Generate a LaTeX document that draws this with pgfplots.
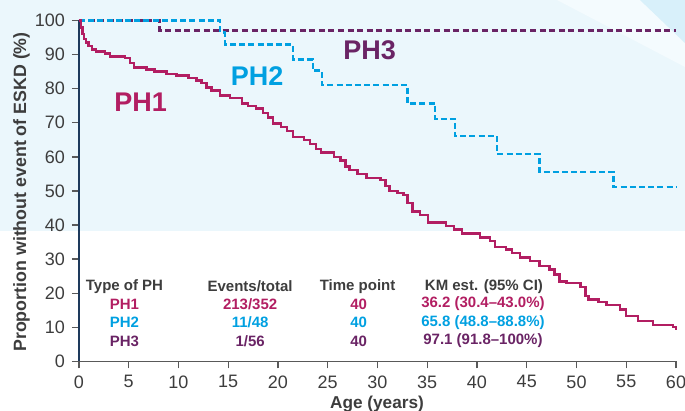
\documentclass[border=0pt]{standalone}
\usepackage{fontspec}
\setmainfont{Liberation Sans}
\usepackage{pgfplots}
\pgfplotsset{compat=1.18}
\definecolor{phone}{HTML}{B21E62}
\definecolor{phtwo}{HTML}{00A0E1}
\definecolor{phthree}{HTML}{6A2465}
\definecolor{txt}{HTML}{3D3D3D}
\definecolor{bgblue}{HTML}{EBF7FC}
\definecolor{bgdark}{HTML}{D8F0FA}
\definecolor{bglight}{HTML}{F4FBFE}
\definecolor{navy}{HTML}{1E3A5C}
\begin{document}
\begin{tikzpicture}
\useasboundingbox (0,0) rectangle (342.5pt,205.5pt);
\fill[bgblue] (0,90pt) rectangle (342.5pt,205.5pt);
\fill[bglight] (278.5pt,205.5pt) -- (320pt,205.5pt) -- (342.5pt,184pt) -- (342.5pt,172pt) -- cycle;
\fill[bgdark] (320pt,205.5pt) -- (342.5pt,205.5pt) -- (342.5pt,184pt) -- cycle;
\begin{axis}[
  at={(39.5pt,24.75pt)}, anchor=south west,
  scale only axis, width=298.5pt, height=170.5pt,
  xmin=0, xmax=60, ymin=0, ymax=100,
  axis x line=bottom, axis y line=left,
  axis line style={-},
  x axis line style={draw=black!65, line width=0.8pt},
  y axis line style={draw=navy, line width=1pt},
  xtick={0,5,...,60}, ytick={0,10,...,100},
  tick align=outside, major tick length=3.5pt,
  tick style={draw=black!65, line width=0.7pt},
  ticklabel style={font=\fontsize{9}{10}\selectfont, text=txt},
  /pgf/number format/assume math mode=true,
  clip=false,
]
\addplot[const plot, phthree, line width=1.2pt, dash pattern=on 3pt off 1.8pt] coordinates {
(0,100) (8.1,97.1) (60,97.1)};
\addplot[const plot, phtwo, line width=1.2pt, dash pattern=on 3pt off 1.6pt] coordinates {
(0,100) (14.2,96.5) (14.7,93.0) (21.5,88.6) (23.5,85.3) (24.4,81.1) (33.0,75.7)
(35.8,71.2) (37.8,66.1) (42.0,60.8) (46.3,55.5) (53.7,51.1) (60.0,51.1)};
\addplot[const plot, phone, line width=1.2pt] coordinates {
(0,100) (0.2,98) (0.35,96) (0.5,94.5) (0.7,93.5) (0.95,92.5) (1.3,91.5) (1.7,90.9)
(2.6,90.3) (3.1,89.5) (4.6,89.0) (5.1,87.6) (5.5,86.2) (6.8,85.6) (7.6,85.0)
(8.8,84.3) (9.8,83.9) (11.0,83.2) (11.8,82.4) (12.3,81.6) (12.8,80.4) (13.3,79.5)
(14.2,78.0) (15.2,77.2) (16.4,75.6) (17.0,75.0) (17.8,74.2) (18.5,72.8) (19.0,71.5)
(19.5,69.8) (20.3,68.8) (20.9,67.6) (21.5,65.8) (22.6,65.0) (23.2,63.8) (23.8,62.3)
(24.3,61.3) (25.6,60.0) (26.3,59.0) (26.8,57.2) (27.2,56.2) (28.0,55.0) (28.9,53.8)
(30.3,53.2) (30.8,51.5) (31.2,50.0) (32.0,49.5) (32.6,48.8) (33.0,46.5) (33.5,44.0)
(34.3,43.0) (35.1,40.8) (36.9,39.8) (37.7,38.7) (38.5,37.5) (40.3,36.4) (41.3,35.3)
(41.8,33.5) (42.9,32.8) (43.5,31.8) (44.3,30.5) (45.3,29.5) (46.3,28.0) (47.3,27.0)
(47.8,25.5) (48.3,23.5) (49.0,23.0) (50.4,21.9) (50.9,19.2) (51.2,18.2) (52.2,17.5)
(53.0,16.6) (54.4,15.3) (55.0,13.4) (56.2,11.8) (57.7,10.7) (59.7,10.2) (60.0,9.2)};
% big labels
\node[font=\fontsize{13.5}{16}\bfseries, text=phone] at (axis cs:6.2,76.0) {PH1};
\node[font=\fontsize{13.5}{16}\bfseries, text=phtwo] at (axis cs:17.9,83.7) {PH2};
\node[font=\fontsize{13.5}{16}\bfseries, text=phthree] at (axis cs:29.2,91.3) {PH3};
% table
\begin{scope}[every node/.style={font=\fontsize{7.5}{9}\bfseries\selectfont}]
\node[text=txt] at (axis cs:4.57,22.1) {Type of PH};
\node[text=txt] at (axis cs:17.2,22.1) {Events/total};
\node[text=txt] at (axis cs:28.0,22.1) {Time point};
\node[text=txt] at (axis cs:40.7,22.1) {KM est. (95\% CI)};
\node[text=phone] at (axis cs:4.57,16.9) {PH1};
\node[text=phone] at (axis cs:17.2,16.9) {213/352};
\node[text=phone] at (axis cs:28.1,16.9) {40};
\node[text=phone] at (axis cs:40.6,16.9) {36.2 (30.4--43.0\%)};
\node[text=phtwo] at (axis cs:4.57,11.4) {PH2};
\node[text=phtwo] at (axis cs:17.2,11.4) {11/48};
\node[text=phtwo] at (axis cs:28.1,11.4) {40};
\node[text=phtwo] at (axis cs:40.6,11.4) {65.8 (48.8--88.8\%)};
\node[text=phthree] at (axis cs:4.57,6.0) {PH3};
\node[text=phthree] at (axis cs:17.2,6.0) {1/56};
\node[text=phthree] at (axis cs:28.1,6.0) {40};
\node[text=phthree] at (axis cs:40.6,6.0) {97.1 (91.8--100\%)};
\end{scope}
\end{axis}
\node[rotate=90, font=\fontsize{8.9}{10}\bfseries\selectfont, text=txt] at (10.75pt,109.5pt) {Proportion without event of ESKD (\%)};
\node[anchor=base, font=\fontsize{8.6}{10}\bfseries\selectfont, text=txt] at (188.5pt,1pt) {Age (years)};
\end{tikzpicture}
\end{document}
